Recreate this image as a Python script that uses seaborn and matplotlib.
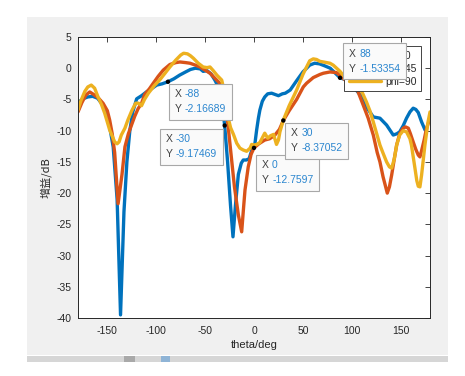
import matplotlib
matplotlib.use("Agg")
import matplotlib.pyplot as plt
from matplotlib.patches import Rectangle
from matplotlib.offsetbox import TextArea, HPacker, VPacker, AnnotationBbox
import seaborn as sns
import pandas as pd

# ---------------- data ----------------
theta_phi0 = [-180, -175, -170, -165, -160, -155, -151, -147.6, -144, -140, -136.5, -133, -130, -127,
              -124, -120, -115, -110, -105, -99.5, -94, -88, -82, -76, -70, -65, -60, -55, -52, -48,
              -44, -40, -36.5, -33, -30, -27, -24, -21.5, -19, -16, -13, -11, -8, -5, -2.4, 1, 2.7,
              4.5, 6, 8.5, 11, 14, 18, 21.5, 25, 29, 32, 37, 43.6, 50, 57, 62, 67, 72, 78, 84.5, 88,
              91, 95, 100, 105, 110, 115, 122, 128.8, 135.6, 142.4, 146, 149, 152.6, 156, 159.5,
              162.8, 165.5, 168, 171.4, 175]
gain_phi0 = [-5.5, -4.9, -4.6, -4.5, -4.8, -5.8, -7.2, -9.4, -12.6, -21, -39.5, -23, -15, -10,
             -7, -4.9, -4.4, -3.8, -3.3, -2.7, -2.5, -2.16689, -1.7, -1.1, -0.6, -0.2, 0.0, -0.1, -0.5, -0.4,
             -0.9, -1.9, -3.0, -5.0, -9.17469, -15, -22, -27, -22, -17, -15.2, -14.7, -14.7, -14.5, -13.2, -12.0, -9.9,
             -8.0, -6.7, -5.3, -4.6, -4.1, -4.0, -4.2, -4.4, -4.1, -4.0, -3.5, -2.0, -0.6, 0.5, 0.8, 0.7, 0.4, 0.0, -1.0, -1.53354,
             -1.7, -1.9, -2.8, -3.6, -4.5, -6.2, -7.8, -8.0, -9.1, -10.7, -10.5, -10.2, -9.2, -8.0, -7.0,
             -6.4, -6.6, -7.1, -8.6, -9.9]

theta_phi45 = [-180, -176, -172, -168, -164, -159, -154.4, -150, -147.6, -145, -142.5, -139, -135, -132,
               -128.5, -125.5, -122, -118.6, -115, -111.8, -107, -103, -98, -92.8, -86, -80, -75.7, -70,
               -65.5, -60, -55.3, -50, -45, -40, -35, -31, -27, -24, -20, -16, -12.6, -10.5, -9.2, -5.9,
               -3, 0, 5, 11, 16, 21.4, 26, 30, 36, 43.6, 50.4, 53.8, 60.6, 67.4, 71, 77.7, 84.5, 89.6,
               94, 98, 105, 111.7, 116.8, 122, 126, 128.8, 132, 134, 136.3, 138.5, 140.8, 143.5, 145.9,
               149, 152.6, 155, 157.8, 160, 162.8, 165.5, 168, 169.7, 171.4, 174, 176.5, 180]
gain_phi45 = [-7.0, -5.5, -4.3, -3.8, -4.2, -4.8, -5.6, -6.8, -8.3, -10.5, -13.5, -21.7, -17, -12.6,
              -10.5, -9.2, -7.7, -6.5, -5.6, -4.2, -3.3, -2.4, -1.3, -0.3, 0.6, 0.9, 1.0, 0.9,
              0.8, 0.5, 0.2, -0.3, -0.8, -1.6, -2.4, -4.5, -8.5, -13, -19, -23.5, -26.2, -22, -19.5, -15.8,
              -13.8, -12.7597, -12.1, -11.5, -11.3, -10.7, -9.8, -8.37052, -6.8, -5.0, -3.0, -2.4, -1.5, -1.0, -0.8, -0.6, -0.7, -1.4,
              -2.0, -2.7, -3.2, -5.9, -8.0, -10.7, -13.5, -15, -17.4, -18.6, -20, -19, -17.1, -14.5, -12.3,
              -10.5, -9.6, -9.4, -9.6, -10.5, -11.8, -13.0, -13.9, -14.2, -13.2, -11.5, -9.6, -8.0]

theta_phi90 = [-180, -177, -173, -170, -166.4, -163, -159.5, -156, -152.7, -147.6, -142.5, -140, -138,
               -135.7, -132, -129, -125, -121, -118, -115, -112, -108, -102, -96, -91, -86, -80, -75,
               -72, -68, -65, -62, -57, -52, -48, -45, -41.6, -38, -33, -30, -27, -24, -21, -17.7,
               -14.4, -11, -7.5, -4, -2.4, 0, 3, 6, 9, 11, 14, 17, 20, 23, 25, 26.5, 30, 36, 43.6, 50,
               53.8, 57, 60.6, 64, 67.4, 71, 77.7, 81, 84.5, 88, 91, 98, 106.6, 111, 115, 118.5, 122,
               125.5, 128.8, 132, 135.6, 138.5, 140.8, 143.5, 145.9, 149, 152.6, 156, 159.5, 161,
               164.6, 166.5, 168, 169.7, 171.4, 174.8, 178, 180]
gain_phi90 = [-6.7, -5.2, -3.7, -3.0, -2.7, -3.2, -4.6, -5.8, -7.2, -9.9, -11.8, -12.1, -11.8,
              -10.7, -9.6, -8.3, -6.8, -5.6, -5.6, -6.0, -5.0, -4.0, -2.8, -1.8, -0.8, 0.2, 1.3, 2.1,
              2.4, 2.3, 2.0, 1.6, 0.8, 0.2, 0.1, 0.2, -0.4, -1.1, -1.9, -4, -7.5, -9.5, -10.6, -12,
              -12.8, -13.1, -13.3, -12.8, -12.2, -12.3, -12.2, -11.9, -11.0, -10.4, -11.2, -10.8, -10.6, -12.2, -11.5, -10.2, -8.3, -6.0, -3.5, -1.0,
              0.2, 1.2, 1.5, 1.4, 1.1, 1.0, 0.8, 0.5, 0.0, -0.5, -1.1, -2.2, -2.9, -4.0, -5.4, -6.8, -8.6,
              -10.5, -12.3, -13.6, -15.0, -15.8, -16.0, -14.5, -12.3, -10.7, -10.0, -10.2, -11.3, -12.3,
              -16, -18, -18.9, -19.0, -17.1, -12.3, -8.6, -7.0]

series_labels = ["phi=0", "phi=45", "phi=90"]
series_colors = ["#0072BD", "#D95319", "#EDB120"]

# data tips (datatip positions and values)
tip_x = [-88, -30, 0, 30, 88]
tip_y = [-2.16689, -9.17469, -12.7597, -8.37052, -1.53354]

x_ticks = [-150, -100, -50, 0, 50, 100, 150]
y_ticks = [-40, -35, -30, -25, -20, -15, -10, -5, 0, 5]

# ---------------- style ----------------
sns.set_style("white")
plt.rcParams['font.family'] = ['Liberation Sans', 'DejaVu Sans']
plt.rcParams['axes.unicode_minus'] = False

fig = plt.figure(figsize=(4.65, 3.76), dpi=100)
fig.patch.set_facecolor("white")

# grey MATLAB figure panel
fig.patches.append(Rectangle((27 / 465, 1 - 355 / 376), 421 / 465, 338 / 376,
                             transform=fig.transFigure, facecolor="#f0f0f0",
                             edgecolor="none", zorder=-10))
# scroll bar strip at bottom
fig.patches.append(Rectangle((27 / 465, 1 - 362 / 376), 421 / 465, 6 / 376,
                             transform=fig.transFigure, facecolor="#d6d6d6",
                             edgecolor="none", zorder=-9))
fig.patches.append(Rectangle((124 / 465, 1 - 362 / 376), 11 / 465, 6 / 376,
                             transform=fig.transFigure, facecolor="#a9a9a9",
                             edgecolor="none", zorder=-8))
fig.patches.append(Rectangle((161 / 465, 1 - 362 / 376), 9 / 465, 6 / 376,
                             transform=fig.transFigure, facecolor="#8fb4d6",
                             edgecolor="none", zorder=-8))

ax = fig.add_axes([78 / 465, 1 - 318 / 376, (430 - 78) / 465, (318 - 37) / 376])
ax.set_facecolor("white")

thetas = [theta_phi0, theta_phi45, theta_phi90]
gains = [gain_phi0, gain_phi45, gain_phi90]
for th, g, lab, col in zip(thetas, gains, series_labels, series_colors):
    df = pd.DataFrame({"theta": th, "gain": g})
    sns.lineplot(data=df, x="theta", y="gain", color=col, linewidth=2.4, label=lab,
                 ax=ax, sort=False, estimator=None)

ax.set_xlim(-180, 180)
ax.set_ylim(-40, 5)
ax.set_xticks(x_ticks)
ax.set_yticks(y_ticks)
ax.tick_params(direction="in", length=3.5, width=0.6, top=True, right=True,
               labeltop=False, labelright=False, labelsize=7.5, colors="#262626")
ax.tick_params(axis="x", pad=5.5)
ax.tick_params(axis="y", pad=4.5)
for s in ax.spines.values():
    s.set_visible(True)
    s.set_color("#262626")
    s.set_linewidth(0.7)

ax.set_xlabel("theta/deg", fontsize=8, color="#262626", labelpad=3.5)
ax.set_ylabel("增益/dB", fontsize=8, color="#262626", labelpad=4,
              family=["Noto Sans CJK SC", "DejaVu Sans"])

leg = ax.legend(loc="upper right", fontsize=7.5, frameon=True, fancybox=False,
                edgecolor="#262626", framealpha=1, borderaxespad=0.9,
                handlelength=3.1, handletextpad=0.4, labelspacing=0.3, borderpad=0.4)
leg.get_frame().set_linewidth(0.6)
leg.set_zorder(5)

# data tip markers
sns.scatterplot(x=tip_x, y=tip_y, color="black", s=10, ax=ax, zorder=6, edgecolor="none",
                legend=False)

# data tip boxes: (box alignment, offset in points)
tip_layout = [((0, 1), (0.7, -1.5)),
              ((1, 1), (-1.5, -2.2)),
              ((0, 1), (1.5, -5.0)),
              ((0, 1), (1.5, -1.5)),
              ((0, 0), (2.2, -1.0))]
val_color = "#2b86cf"
lab_color = "#404040"
for xv, yv, (align, off) in zip(tip_x, tip_y, tip_layout):
    row1 = HPacker(children=[TextArea("X", textprops=dict(color=lab_color, fontsize=7.5)),
                             TextArea(f"{xv:.6g}", textprops=dict(color=val_color, fontsize=7.5))],
                   pad=0, sep=2.5)
    row2 = HPacker(children=[TextArea("Y", textprops=dict(color=lab_color, fontsize=7.5)),
                             TextArea(f"{yv:.6g}", textprops=dict(color=val_color, fontsize=7.5))],
                   pad=0, sep=2.5)
    box = VPacker(children=[row1, row2], pad=4, sep=3.5, align="left")
    ab = AnnotationBbox(box, (xv, yv), xybox=off, xycoords="data", boxcoords="offset points",
                        box_alignment=align, frameon=True, pad=0,
                        bboxprops=dict(boxstyle="square,pad=0", facecolor="#fafafa",
                                       edgecolor="#a8a8a8", linewidth=0.8))
    ab.set_zorder(10)
    ax.add_artist(ab)

fig.savefig("out.png", dpi=100, facecolor="white")
